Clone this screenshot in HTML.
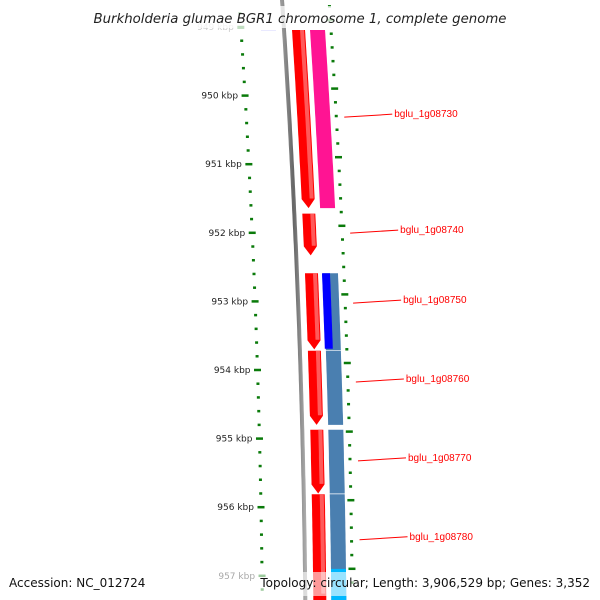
<!DOCTYPE html>
<html><head><meta charset="utf-8"><style>
html,body{margin:0;padding:0;background:#fff;width:600px;height:600px;overflow:hidden}
svg{display:block;font-family:"DejaVu Sans","Liberation Sans",sans-serif}
</style></head><body>
<svg id="map" width="600" height="600" viewBox="0 0 600 600">
<defs>
<linearGradient id="gGrey" x1="0" x2="1"><stop offset="0" stop-color="#999"/><stop offset="0.5" stop-color="#666"/><stop offset="1" stop-color="#aaa"/></linearGradient>
</defs>
<g id="ticks"></g>
<g id="genes"></g>
<g id="labels"></g>
<rect x="88" y="6" width="424" height="22" fill="#fff" fill-opacity="0.75"/>
<text x="300" y="23" text-anchor="middle" font-size="13.3" font-style="italic" fill="#222">Burkholderia glumae BGR1 chromosome 1, complete genome</text>
<rect x="4" y="572" width="592" height="24" fill="#fff" fill-opacity="0.6"/>
<text x="9" y="587" font-size="12" fill="#111">Accession: NC_012724</text>
<text x="590" y="587" text-anchor="end" font-size="12" fill="#111">Topology: circular; Length: 3,906,529 bp; Genes: 3,352</text>
</svg>
<script>
// data
const tickKbp = [949,950,951,952,953,954,955,956,957];
const geneNames = ["bglu_1g08730","bglu_1g08740","bglu_1g08750","bglu_1g08760","bglu_1g08770","bglu_1g08780"];
const geneStarts = [949.04, 951.72, 952.59, 953.72, 954.87, 955.81];
const geneEnds = [951.64, 952.33, 953.70, 954.80, 955.80, 957.40];
const cdsStarts = [949.04, 952.59, 953.72, 954.87, 955.81];
const cdsEnds = [951.64, 953.71, 954.80, 955.80, 957.40];
const labelKbp = [950.30, 951.99, 953.01, 954.16, 955.31, 956.46];

const NS = "http://www.w3.org/2000/svg";
const pxPerKbp = 68.6;
function yOf(k){ return 27 + (k - 949) * pxPerKbp; }
const R = 10300, CY = 700;
function xOf(y, off){ return 305.8 - (y - CY) * (y - CY) / (2 * R) + off; }
function mk(tag, attrs, parent){ const e = document.createElementNS(NS, tag); for (const k in attrs) e.setAttribute(k, attrs[k]); parent.appendChild(e); return e; }

const tickG = document.getElementById('ticks');
const geneG = document.getElementById('genes');
const labG = document.getElementById('labels');

let bp = [];
for (let y = -5; y <= 605; y += 5) bp.push(xOf(y,0).toFixed(1) + "," + y);
const bb = mk('polyline', {points: bp.join(' '), fill: 'none', stroke: 'url(#gGrey)', 'stroke-width': 4}, tickG);



for (let k = tickKbp[0] - 0.2; k <= tickKbp[tickKbp.length-1] + 0.4; k += 0.2) {
  const y = yOf(k);
  const major = Math.abs(k - Math.round(k)) < 0.01;
  const w = major ? 7 : 3;
  const xi = xOf(y, -43);
  const t = mk('line', {x1: xi - w/2, x2: xi + w/2, y1: y, y2: y, stroke: '#0a7a0a', 'stroke-width': 2.5}, tickG);
  
  
  const yo = y - 7;
  const xo = xOf(yo, 47);
  const t2 = mk('line', {x1: xo - w/2, x2: xo + w/2, y1: yo, y2: yo, stroke: '#0a7a0a', 'stroke-width': 2.5}, tickG);
  
  
}
tickKbp.forEach(k => {
  const y = yOf(k);
  const tx = mk('text', {x: xOf(y, -47) - 3, y: y + 3, 'text-anchor': 'end', 'font-size': 9, fill: k === 949 ? '#ccc' : '#222'}, tickG);
  tx.textContent = k + ' kbp';
  
  
});

function band(s, e, o1, o2, color, arrow, name){
  let y1 = Math.max(yOf(s), 30), y2 = yOf(e);
  const ah = arrow ? 9 : 0;
  let L = [], Rr = [];
  for (let y = y1; y <= y2 - ah; y += 4) { L.push([xOf(y,o1), y]); Rr.push([xOf(y,o2), y]); }
  L.push([xOf(y2-ah,o1), y2-ah]); Rr.push([xOf(y2-ah,o2), y2-ah]);
  let pts = L.slice();
  if (arrow) pts.push([xOf(y2,(o1+o2)/2), y2]);
  pts = pts.concat(Rr.reverse());
  const p = mk('polygon', {points: pts.map(a => a[0].toFixed(1)+','+a[1].toFixed(1)).join(' '), fill: color}, geneG);
  
  
}
geneStarts.forEach((s, i) => band(s, geneEnds[i], 8, 21, '#ff0000', i < 5, 'gene-' + geneNames[i]));
geneStarts.forEach((s, i) => band(s, geneEnds[i] - 0.14, 16, 20, '#ff5a5a', false, 'gene-highlight'));
cdsStarts.forEach((s, i) => {
  const c = i === 0 ? '#ff1493' : '#4a7fb0';
  band(s, cdsEnds[i], 26, 41, c, false, i === 0 ? 'cds-pink' : 'cds-steelblue');
});
band(cdsStarts[1], cdsEnds[1] - 0.02, 25, 33, '#0000ff', false, 'cds-blue');
band(956.9, 957.5, 26, 41, '#00b8ff', false, 'cds-cyan');
band(948.98, 949.05, -23, -8, '#c8c8ff', false, 'prev-feature');

labelKbp.forEach((k, i) => {
  const y = yOf(k);
  const x1 = xOf(y, 55), x2 = x1 + 48;
  const ln = mk('line', {x1: x1, y1: y + 1, x2: x2, y2: y - 2, stroke: '#ff0000', 'stroke-width': 1}, labG);
  
  
  const t = mk('text', {x: x2 + 2, y: y + 1, 'font-size': 10, fill: '#ff0000', 'font-family': '"Liberation Sans", sans-serif'}, labG);
  t.textContent = geneNames[i];
  
  
});
</script>
</body></html>
